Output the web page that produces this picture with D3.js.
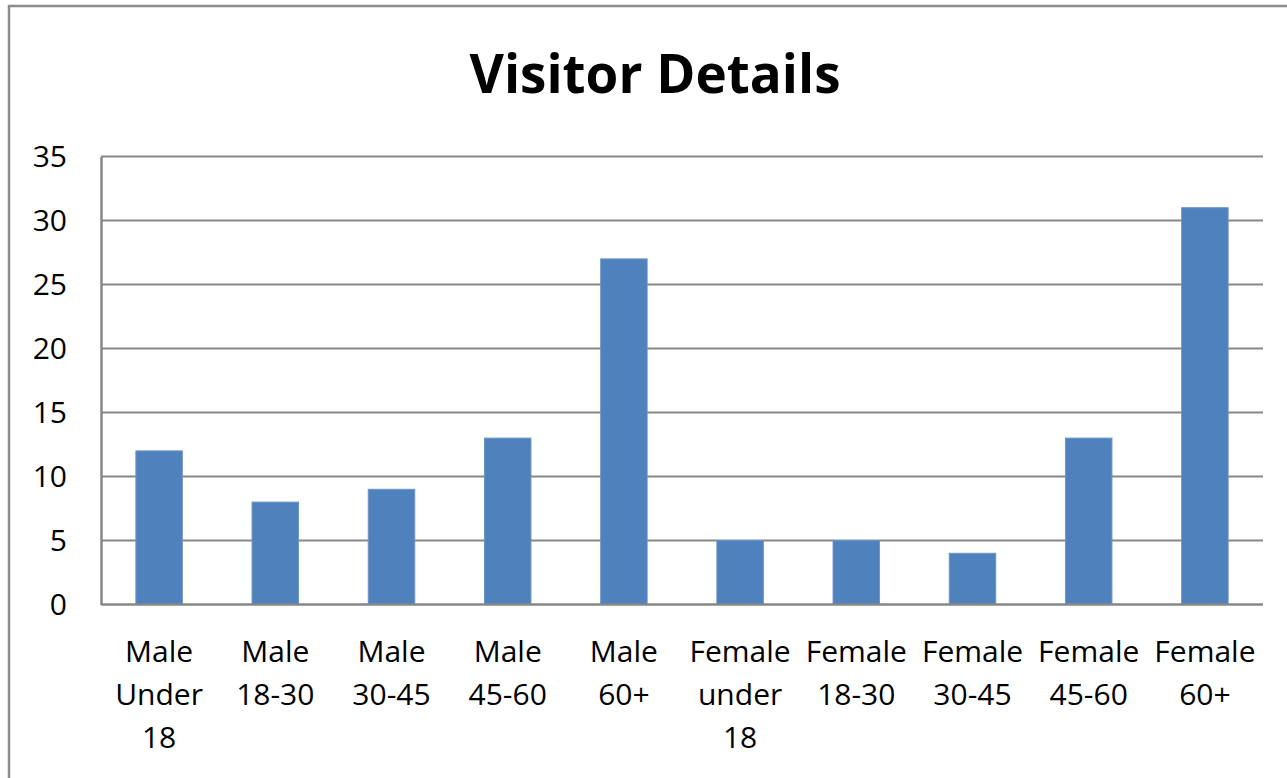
<!DOCTYPE html>
<html>
<head>
<meta charset="utf-8">
<script src="https://cdn.jsdelivr.net/npm/d3@7"></script>
<style>
  body { margin: 0; background: #fff; }
  text { font-family: "Open Sans", sans-serif; fill: #000; }
</style>
</head>
<body>
<div id="chart"></div>
<script>
// chart data
const categories = [
  ["Male", "Under", "18"], ["Male", "18-30"], ["Male", "30-45"], ["Male", "45-60"], ["Male", "60+"],
  ["Female", "under", "18"], ["Female", "18-30"], ["Female", "30-45"], ["Female", "45-60"], ["Female", "60+"]
];
const visitors = [12, 8, 9, 13, 27, 5, 5, 4, 13, 31];
const yTicks = [0, 5, 10, 15, 20, 25, 30, 35];
const title = "Visitor Details";

const width = 1287,
    height = 778;

const plot = { left: 101, right: 1263, top: 156.5, bottom: 604.5 };

let svg = d3.select("#chart").append("svg")
    .attr("width", width)
    .attr("height", height);

// outer chart border (runs off the right and bottom edges)
svg.append("rect")
    .attr("x", 9)
    .attr("y", 6)
    .attr("width", 1400)
    .attr("height", 900)
    .attr("fill", "none")
    .attr("stroke", "#8c8c8c")
    .attr("stroke-width", 2.5);

svg.append("text")
    .attr("x", 655)
    .attr("y", 93)
    .attr("text-anchor", "middle")
    .style("font-size", "53px")
    .style("font-weight", "bold")
    .text(title);

let x = d3.scaleBand()
    .domain(d3.range(categories.length))
    .range([plot.left, plot.right])
    .paddingInner(0.6)
    .paddingOuter(0.3);

let y = d3.scaleLinear()
    .domain([0, 35])
    .range([plot.bottom, plot.top]);

// gridlines
svg.append("g")
  .selectAll("line")
    .data(yTicks.filter(d => d > 0))
  .enter()
    .append("line")
    .attr("x1", plot.left)
    .attr("x2", plot.right)
    .attr("y1", d => y(d))
    .attr("y2", d => y(d))
    .attr("stroke", "#878787")
    .attr("stroke-width", 2);

// bars
svg.append("g")
  .selectAll("rect")
    .data(visitors)
  .enter()
    .append("rect")
    .attr("x", (d, i) => x(i))
    .attr("y", d => y(d))
    .attr("width", x.bandwidth())
    .attr("height", d => y(0) - y(d))
    .attr("fill", "#4f81bd")
    .attr("stroke", "#6b95c9")
    .attr("stroke-width", 1);

// y axis
let yAxis = svg.append("g")
    .attr("transform", "translate(" + plot.left + ",0)")
    .call(d3.axisLeft(y).tickValues(yTicks).tickSize(0).tickPadding(34));
yAxis.select(".domain").attr("stroke", "#878787").attr("stroke-width", 2.5);
yAxis.selectAll("text").style("font-size", "30px").attr("dy", "0.33em");

// x axis
let xAxis = svg.append("g")
    .attr("transform", "translate(0," + plot.bottom + ")")
    .call(d3.axisBottom(x).tickSize(0).tickFormat(""));
xAxis.select(".domain")
    .attr("d", "M" + plot.left + ",0H" + plot.right)
    .attr("stroke", "#878787")
    .attr("stroke-width", 2.5);

xAxis.selectAll(".tick text")
    .style("font-size", "30px")
    .attr("y", 0)
    .attr("dy", null)
    .each(function(d) {
      let t = d3.select(this);
      categories[d].forEach((line, k) => {
        t.append("tspan")
          .attr("x", 0)
          .attr("y", 57 + k * 43.3)
          .text(line);
      });
    });
</script>
</body>
</html>
